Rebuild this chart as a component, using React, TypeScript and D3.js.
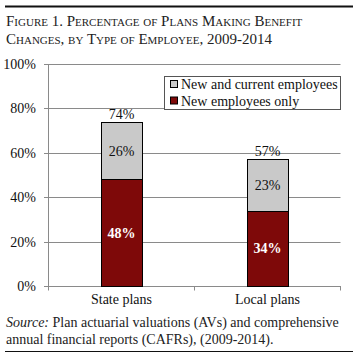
import React from "react";
import * as d3 from "d3";

const categories = ["State plans", "Local plans"];
const newOnly = [48, 34];
const newAndCurrent = [26, 23];
const totals = [74, 57];
const yTicks = [0, 20, 40, 60, 80, 100];
const legendLabels = ["New and current employees", "New employees only"];

const W = 359;
const H = 361;
const FONT = "'Liberation Serif', 'DejaVu Serif', serif";
const RED = "#7e0909";
const GRAY = "#c9c9c9";
const GRID = "#8a8a8a";

export default function App() {
  const x = d3
    .scaleBand<string>()
    .domain(categories)
    .range([48.5, 340.5])
    .paddingInner(0.72)
    .paddingOuter(0.36);
  const y = d3.scaleLinear().domain([0, 100]).range([286, 64]);
  const bw = x.bandwidth();
  const step = x.step();

  return (
    <svg
      width={W}
      height={H}
      style={{ position: "absolute", left: 0, top: 0, background: "#fff" }}
      fontFamily={FONT}
    >
      <rect x={0} y={0} width={W} height={H} fill="#fff" />
      {/* top rule */}
      <line x1={5} x2={353} y1={6.5} y2={6.5} stroke="#111" strokeWidth={2} />
      {/* title */}
      <text x={6} y={26} fontSize={15} fill="#222" style={{ fontVariant: "small-caps" }}>
        Figure 1. Percentage of Plans Making Benefit
      </text>
      <text x={6} y={43.5} fontSize={15} fill="#222" style={{ fontVariant: "small-caps" }}>
        Changes, by Type of Employee, 2009-2014
      </text>

      {/* gridlines and y ticks */}
      {yTicks.map((t) => (
        <g key={t}>
          <line
            x1={44}
            x2={340.5}
            y1={Math.round(y(t)) + 0.5}
            y2={Math.round(y(t)) + 0.5}
            stroke={GRID}
            strokeWidth={1}
          />
          <text
            x={36}
            y={y(t) + 5}
            fontSize={14}
            textAnchor="end"
            fill="#111"
          >
            {t}%
          </text>
        </g>
      ))}
      {/* y axis */}
      <line x1={48.5} x2={48.5} y1={64} y2={286.5} stroke={GRID} />
      {/* x axis ticks */}
      {[0, 1, 2].map((i) => {
        const xx = 48.5 + i * step;
        return <line key={i} x1={xx} x2={xx} y1={286} y2={290.5} stroke={GRID} />;
      })}

      {/* bars */}
      {categories.map((c, i) => {
        const x0 = x(c)!;
        const yBase = y(0);
        const yMid = y(newOnly[i]);
        const yTop = y(newOnly[i] + newAndCurrent[i]);
        return (
          <g key={c}>
            <rect
              x={Math.round(x0) + 0.5}
              y={Math.round(yMid) + 0.5}
              width={Math.round(bw)}
              height={Math.round(yBase) - Math.round(yMid)}
              fill={RED}
              stroke="#000"
              strokeWidth={1}
            />
            <rect
              x={Math.round(x0) + 0.5}
              y={Math.round(yTop) + 0.5}
              width={Math.round(bw)}
              height={Math.round(yMid) - Math.round(yTop)}
              fill={GRAY}
              stroke="#000"
              strokeWidth={1}
            />
            <text
              x={x0 + bw / 2}
              y={(yBase + yMid) / 2 + 5}
              fontSize={14}
              fontWeight="bold"
              fill="#fff"
              textAnchor="middle"
            >
              {newOnly[i]}%
            </text>
            <text
              x={x0 + bw / 2}
              y={(yMid + yTop) / 2 + 5}
              fontSize={14}
              fill="#111"
              textAnchor="middle"
            >
              {newAndCurrent[i]}%
            </text>
            <text
              x={x0 + bw / 2}
              y={y(totals[i]) - 3}
              fontSize={14}
              fill="#111"
              textAnchor="middle"
            >
              {totals[i]}%
            </text>
            <text
              x={x0 + bw / 2}
              y={304}
              fontSize={14}
              fill="#111"
              textAnchor="middle"
            >
              {c}
            </text>
          </g>
        );
      })}

      {/* legend */}
      <rect x={164.5} y={76.5} width={176} height={33} fill="#fff" stroke="#555" />
      {legendLabels.map((l, i) => (
        <g key={l}>
          <rect
            x={170.5}
            y={80.5 + i * 16.5}
            width={7}
            height={7}
            fill={i === 0 ? GRAY : RED}
            stroke="#000"
          />
          <text x={181} y={89 + i * 16.5} fontSize={14} fill="#111">
            {l}
          </text>
        </g>
      ))}

      {/* source */}
      <text x={6} y={327} fontSize={14} fill="#222">
        <tspan fontStyle="italic">Source:</tspan> Plan actuarial valuations (AVs) and comprehensive
      </text>
      <text x={6} y={344} fontSize={14} fill="#222">
        annual financial reports (CAFRs), (2009-2014).
      </text>
      {/* bottom rule */}
      <line x1={5} x2={353} y1={351.5} y2={351.5} stroke="#111" strokeWidth={1.2} />
    </svg>
  );
}
